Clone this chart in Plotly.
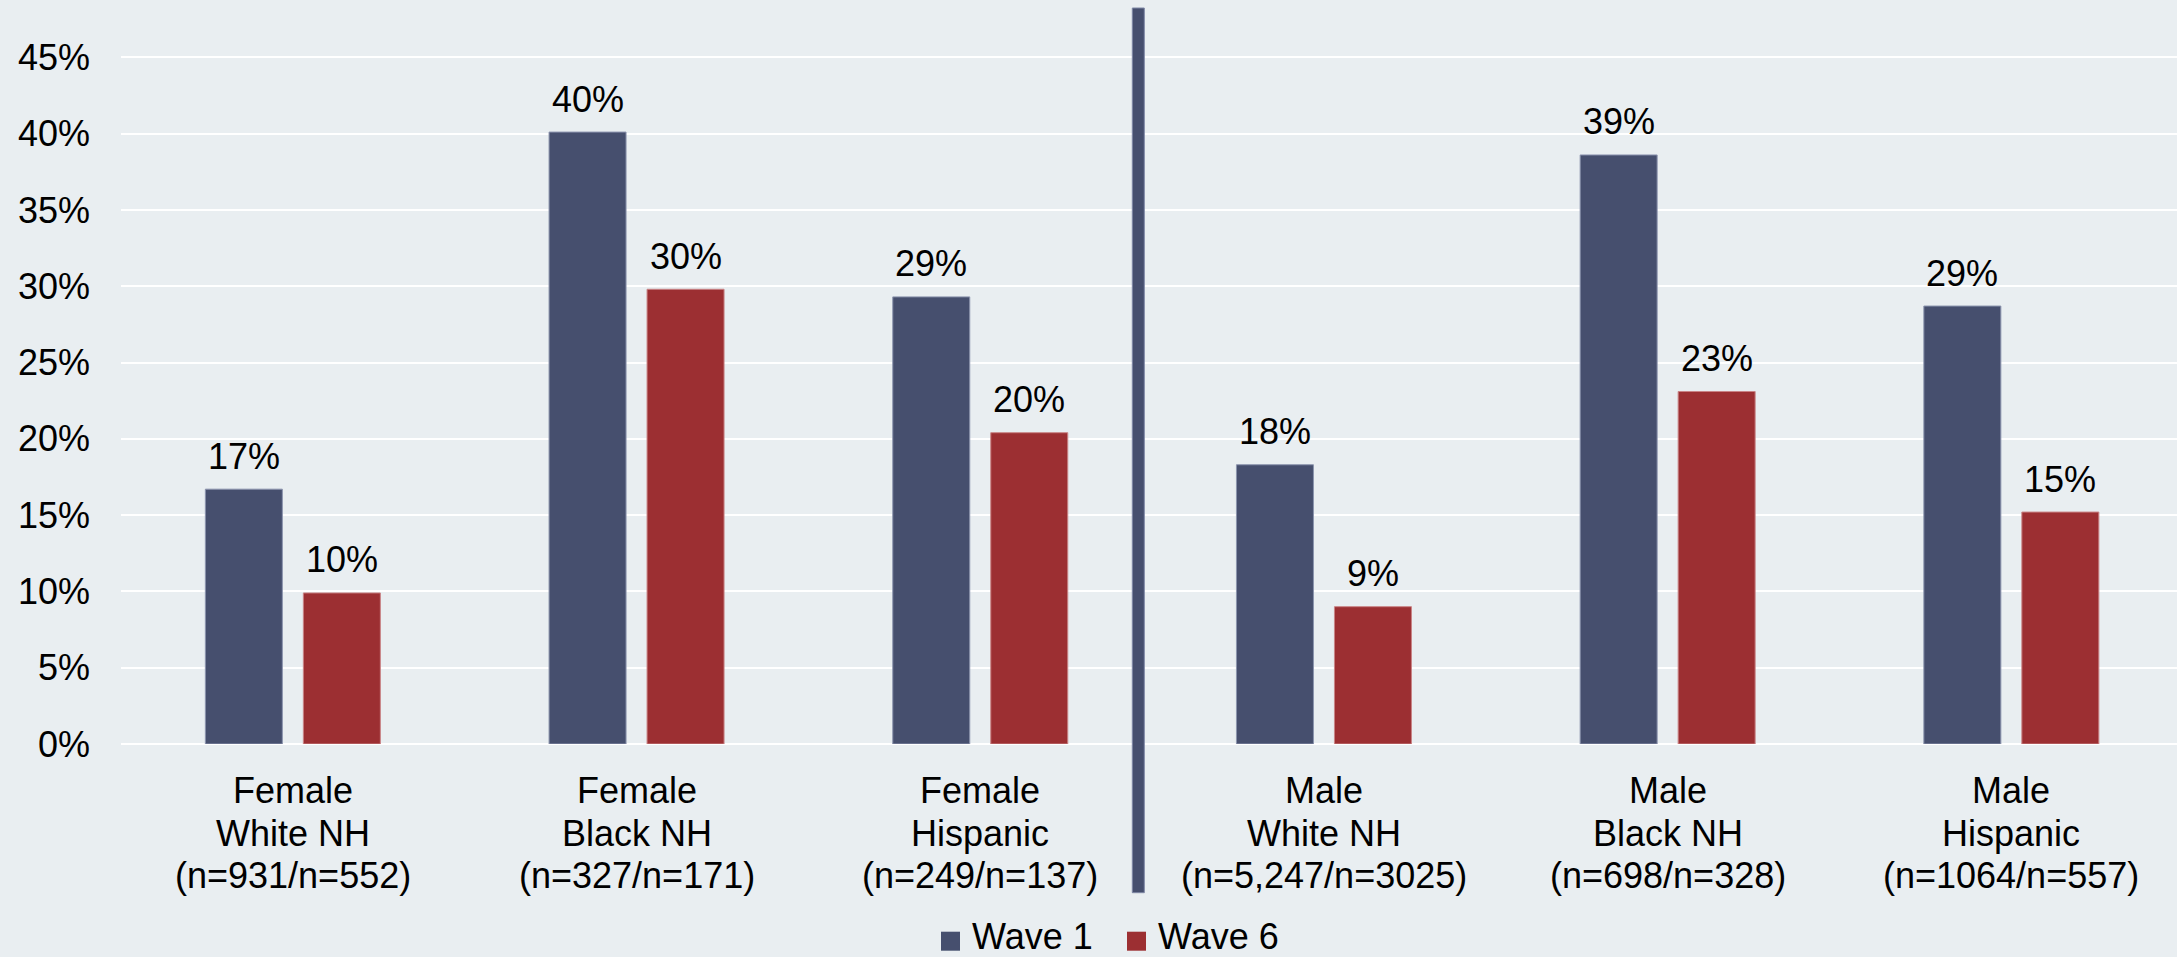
import plotly.graph_objects as go

# Survey groups (three label lines each) and the share reporting the outcome
categories = [
    "Female<br>White NH<br>(n=931/n=552)",
    "Female<br>Black NH<br>(n=327/n=171)",
    "Female<br>Hispanic<br>(n=249/n=137)",
    "Male<br>White NH<br>(n=5,247/n=3025)",
    "Male<br>Black NH<br>(n=698/n=328)",
    "Male<br>Hispanic<br>(n=1064/n=557)",
]
series_names = ["Wave 1", "Wave 6"]
wave1 = [16.7, 40.1, 29.3, 18.3, 38.6, 28.7]
wave6 = [9.9, 29.8, 20.4, 9.0, 23.1, 15.2]
y_ticks = [0, 5, 10, 15, 20, 25, 30, 35, 40, 45]
y_tick_labels = [f"{v}%" for v in y_ticks]

BG = "#E9EEF1"
BLUE = "#464F6E"
RED = "#9C2F32"
FONT = "Liberation Sans, Arial, sans-serif"
FS = 36

W, H = 2177, 957
ML, MR, MT, MB = 121, 0, 8, 213
plot_w = W - ML - MR
plot_h = H - MT - MB
cat_px = 343.7               # pixel width of one category slot
y_max = plot_h / 15.26       # 15.26 px per percentage point


def px_to_paper_x(px):
    return (px - ML) / plot_w


def px_to_paper_y(py):
    return (H - MB - py) / plot_h


fig = go.Figure()
fig.add_trace(go.Bar(
    x=categories, y=wave1, name=series_names[0],
    marker=dict(color=BLUE, line=dict(color="#8C94AE", width=1)),
    showlegend=False,
))
fig.add_trace(go.Bar(
    x=categories, y=wave6, name=series_names[1],
    marker=dict(color=RED, line=dict(color="#C98486", width=1)),
    showlegend=False,
))

annotations = []
# value labels above each bar
for vals, shift in ((wave1, -49), (wave6, 49)):
    for c, v in zip(categories, vals):
        annotations.append(dict(
            x=c, y=v, xref="x", yref="y", text=f"{v:.0f}%",
            showarrow=False, xshift=shift, yshift=33,
            xanchor="center", yanchor="middle",
            font=dict(family=FONT, size=FS, color="#000000"),
        ))

# category labels, one annotation per line for tight line spacing
line_offsets = [46, 89.5, 131]
for c in categories:
    for line, off in zip(c.split("<br>"), line_offsets):
        annotations.append(dict(
            x=c, y=0, xref="x", yref="y", text=line,
            showarrow=False, yshift=-off,
            xanchor="center", yanchor="middle",
            font=dict(family=FONT, size=FS, color="#000000"),
        ))

# legend drawn by hand: colour squares plus labels
shapes = []
legend_items = [(series_names[0], BLUE, 941, 970), (series_names[1], RED, 1127, 1156)]
for name, col, sq_x, tx_x in legend_items:
    shapes.append(dict(
        type="rect", xref="paper", yref="paper",
        x0=px_to_paper_x(sq_x), x1=px_to_paper_x(sq_x + 19),
        y0=px_to_paper_y(950.7), y1=px_to_paper_y(931.7),
        fillcolor=col, line=dict(width=0), layer="above",
    ))
    annotations.append(dict(
        x=px_to_paper_x(tx_x), y=px_to_paper_y(936), xref="paper", yref="paper",
        text=name, showarrow=False, xanchor="left", yanchor="middle",
        font=dict(family=FONT, size=FS, color="#000000"),
    ))

# vertical divider between female and male groups
div_x0 = (1132.3 - (ML + cat_px / 2)) / cat_px
div_x1 = (1144.3 - (ML + cat_px / 2)) / cat_px
shapes.append(dict(
    type="rect", xref="x", yref="paper",
    x0=div_x0, x1=div_x1, y0=px_to_paper_y(892.7), y1=px_to_paper_y(8),
    fillcolor=BLUE, line=dict(color="#7F88A5", width=1), layer="above",
))

fig.update_layout(
    width=W, height=H,
    margin=dict(l=ML, r=MR, t=MT, b=MB, pad=0),
    paper_bgcolor=BG, plot_bgcolor=BG,
    barmode="group", bargap=0.4297, bargroupgap=0.2143,
    font=dict(family=FONT, size=FS, color="#000000"),
    annotations=annotations, shapes=shapes,
    xaxis=dict(
        range=[-0.5, -0.5 + plot_w / cat_px],
        showticklabels=False, showgrid=False, zeroline=False,
        showline=False, ticks="",
    ),
    yaxis=dict(
        range=[0, y_max], tickmode="array",
        tickvals=y_ticks, ticktext=y_tick_labels,
        showgrid=True, gridcolor="#FFFFFF", gridwidth=2,
        zeroline=True, zerolinecolor="#FFFFFF", zerolinewidth=2,
        showline=False, ticks="", ticklabelstandoff=30,
        tickfont=dict(family=FONT, size=FS, color="#000000"),
    ),
    showlegend=False,
)

fig.write_html("out.html")
